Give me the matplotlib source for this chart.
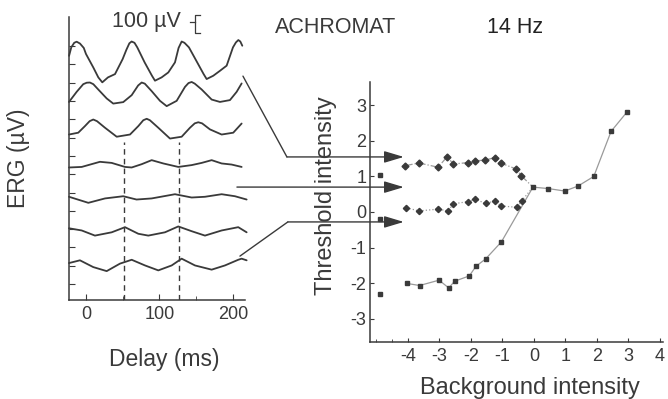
import numpy as np
import matplotlib
matplotlib.use("Agg")
import matplotlib.pyplot as plt
from matplotlib.patches import ConnectionPatch

plt.rcParams['font.family'] = ['Liberation Sans', 'DejaVu Sans']
plt.rcParams['axes.unicode_minus'] = False

ink = '#3a3a3a'
faint = '#9a9a9a'

# ERG traces, top to bottom: delay (ms) and response (uV) around each baseline
trace_offsets = [1220, 1040, 850, 655, 475, 290, 105]
trace_ms = [
    [-23, -20, -16, -12.7, -8.2, -3, 0, 10, 16.8, 22.2, 29.9, 39.5, 49.9, 55, 59, 62.1, 66, 69.8, 79.8, 89.8,
     93.9, 102.9, 112, 121.1, 126, 130.2, 134, 140.1, 150.1, 160.1, 164.2, 173.2, 182.3, 191.4, 200, 204,
     207.3, 210, 212.7],
    [-23.1, -12.7, -3.7, 1, 5.4, 10, 16.7, 28.2, 37.1, 50.7, 62.2, 71, 75.8, 80, 89.4, 100.7, 109.8, 123.4,
     134.7, 139.5, 143.8, 148, 157.4, 171, 182.3, 195.9, 205, 211.8],
    [-23.1, -10.5, -1.4, 5, 9.9, 15, 25.9, 41.8, 59.9, 71.2, 78, 82.6, 87, 98.4, 114.3, 130.2, 141.5, 148,
     152.8, 158, 168.7, 184.6, 200.4, 211.8],
    [-23.1, -5.8, 19, 35, 53.1, 62.2, 75.8, 89.4, 105.2, 125.6, 143.8, 157.4, 171, 184.6, 198.2, 211.8],
    [-23.1, 3.2, 25.9, 50.7, 68.8, 89.4, 121.1, 143.8, 161.9, 184.6, 202.7, 218.6],
    [-23.1, -5.8, 12.2, 35, 53.1, 71.2, 84.8, 107.5, 125.6, 143.8, 161.9, 184.6, 207.2, 218.6],
    [-23.1, -8.2, 9.9, 28.2, 46.3, 62.2, 80.3, 98.4, 116.6, 130.2, 148.3, 171, 189.1, 207.2, 211.8, 218.6],
]
trace_uv = [
    [27, 73, 98, 104, 94, 70, 37, -37, -91, -118, -91, -73, 9, 60, 95, 105, 98, 73, -9, -82,
     -109, -91, -64, -9, 70, 105, 98, 73, 0, -73, -100, -82, -55, -27, 73, 100, 113, 105, 82],
    [-45, 10, 52, 60, 61, 52, 23, -26, -54, -46, -8, 45, 61, 55, 14, -39, -68, -39,
     37, 58, 64, 55, 23, -32, -45, -35, 10, 56],
    [-33, -23, 13, 40, 49, 40, 4, -45, -33, 13, 45, 53, 45, 4, -55, -45, 4, 28,
     34, 28, -5, -33, -23, 27],
    [-18, -15, 13, 7, -15, -18, 0, 22, 4, -15, -5, 7, 22, 4, -2, -15],
    [2, -31, -7, 5, -13, -7, 16, -2, 2, 16, 5, -13],
    [15, 3, -25, -7, 21, -15, -25, -7, 25, -1, -25, 3, 21, -7],
    [10, 25, -12, -34, 7, 28, -3, -30, -3, 34, -3, -26, -3, 28, 34, 25],
]
marker_delays = [52, 126]

# threshold vs background intensity (log units)
upper_x = [-4.1, -3.65, -3.04, -2.75, -2.56, -2.10, -1.87, -1.56, -1.24, -1.03, -0.56, -0.40]
upper_y = [1.30, 1.38, 1.26, 1.56, 1.35, 1.39, 1.44, 1.46, 1.53, 1.37, 1.21, 1.02]
middle_x = [-4.05, -3.65, -3.04, -2.72, -2.56, -2.10, -1.87, -1.53, -1.24, -1.03, -0.53, -0.39]
middle_y = [0.12, 0.03, 0.08, 0.03, 0.23, 0.29, 0.36, 0.24, 0.31, 0.17, 0.13, 0.31]
lower_x = [-4.04, -3.63, -3.01, -2.70, -2.52, -2.05, -1.84, -1.53, -1.03]
lower_y = [-2.01, -2.07, -1.92, -2.14, -1.95, -1.80, -1.53, -1.32, -0.84]
merged_x = [-0.03, 0.45, 0.98, 1.40, 1.90, 2.45, 2.96]
merged_y = [0.70, 0.66, 0.59, 0.73, 1.00, 2.27, 2.82]
dark_x = [-4.89, -4.89, -4.89]
dark_y = [1.04, -0.21, -2.31]

fig = plt.figure(figsize=(6.68, 3.99), dpi=100)
fig.patch.set_facecolor('white')

# ---- left panel: ERG traces
ax1 = fig.add_axes([0.1034, 0.248, 0.2635, 0.709])
for ms, uv, off in zip(trace_ms, trace_uv, trace_offsets):
    ax1.plot(ms, np.array(uv) + off, color=ink, lw=1.3, clip_on=False,
             solid_joinstyle='round', solid_capstyle='round')
ax1.vlines(marker_delays, -87, 775, colors=ink, lw=1, linestyles=(0, (4, 3)))
ax1.set_xlim(-23, 216.5)
ax1.set_ylim(-87, 1458)
ax1.set_xticks([0, 100, 200])
ax1.set_xticks([50, 150], minor=True)
ax1.set_yticks(np.arange(0, 1400, 100))
ax1.set_yticklabels([])
ax1.tick_params(direction='in', length=4, color=ink, labelcolor=ink, labelsize=13, pad=4)
ax1.tick_params(which='minor', direction='in', length=3, color=ink)
for s in ['top', 'right']:
    ax1.spines[s].set_visible(False)
for s in ['left', 'bottom']:
    ax1.spines[s].set_color(ink)
    ax1.spines[s].set_linewidth(1.1)

# 100 uV scale bar
ax1.plot([141.5, 148.3], [1432, 1432], color=ink, lw=0.9, clip_on=False)
ax1.plot([155, 148.3, 148.3, 155], [1469, 1469, 1370, 1370], color=ink, lw=0.9, clip_on=False)
ax1.text(129, 1432, '100 µV', ha='right', va='center', fontsize=15.5, color=ink)

# ---- right panel: thresholds
ax2 = fig.add_axes([0.554, 0.1429, 0.4386, 0.6516])
ax2.plot(upper_x + merged_x[:1], upper_y + merged_y[:1], color=faint, lw=0.9, ls='-.')
ax2.plot(middle_x + merged_x[:1], middle_y + merged_y[:1], color=faint, lw=0.9, ls=':')
ax2.plot(lower_x + merged_x[:1], lower_y + merged_y[:1], color=faint, lw=0.9)
ax2.plot(merged_x, merged_y, color=faint, lw=0.9)
ax2.plot(upper_x, upper_y, 'D', color=ink, ms=3.5)
ax2.plot(middle_x, middle_y, 'D', color=ink, ms=3.2)
ax2.plot(lower_x, lower_y, 's', color=ink, ms=3)
ax2.plot(merged_x, merged_y, 's', color=ink, ms=3.2)
ax2.plot(dark_x, dark_y, 's', color=ink, ms=3)
ax2.set_xlim(-5.2, 4.1)
ax2.set_ylim(-3.66, 3.66)
ax2.set_xticks(range(-4, 5))
ax2.set_xticks([-5, -4.5], minor=True)
ax2.set_yticks(range(-3, 4))
ax2.tick_params(direction='in', length=3, color=ink, labelcolor=ink, labelsize=13, pad=4)
ax2.tick_params(axis='y', pad=2.5)
ax2.tick_params(which='minor', direction='in', length=2, color=ink)
for s in ['top', 'right']:
    ax2.spines[s].set_visible(False)
for s in ['left', 'bottom']:
    ax2.spines[s].set_color(ink)
    ax2.spines[s].set_linewidth(1.1)

# ---- arrows linking traces to threshold levels
arrow_starts = [(213.6, 1136), (205.4, 530), (209.5, 153)]
arrow_bends = [(-7.84, 1.55), None, (-7.81, -0.28)]
arrow_levels = [1.55, 0.70, -0.28]
arrow_tip_x = -4.13
for start, bend, level in zip(arrow_starts, arrow_bends, arrow_levels):
    tip = (arrow_tip_x, level)
    if bend is not None:
        fig.add_artist(ConnectionPatch(start, bend, coordsA=ax1.transData, coordsB=ax2.transData,
                                       color=ink, lw=1))
        tail, tail_coords = bend, ax2.transData
    else:
        tail, tail_coords = start, ax1.transData
    fig.add_artist(ConnectionPatch(tail, tip, coordsA=tail_coords, coordsB=ax2.transData,
                                   color=ink, lw=1, arrowstyle='-|>,head_length=0.6,head_width=0.18',
                                   mutation_scale=20, shrinkA=0, shrinkB=0))

# ---- labels
fig.text(0.027, 0.604, 'ERG (µV)', rotation=90, ha='center', va='center', fontsize=16.5, color=ink)
fig.text(0.246, 0.098, 'Delay (ms)', ha='center', va='center', fontsize=16.5, color=ink)
fig.text(0.488, 0.509, 'Threshold intensity', rotation=90, ha='center', va='center', fontsize=17, color=ink)
fig.text(0.793, 0.028, 'Background intensity', ha='center', va='center', fontsize=17, color=ink)
fig.text(0.503, 0.932, 'ACHROMAT', ha='center', va='center', fontsize=15.5, color=ink)
fig.text(0.771, 0.932, '14 Hz', ha='center', va='center', fontsize=15.5, color='#222222')

fig.savefig('out.png', dpi=100)
